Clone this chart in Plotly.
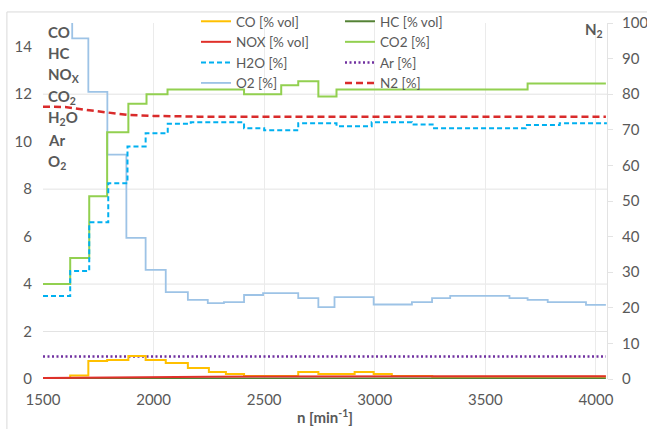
import plotly.graph_objects as go

# ---------------- data ----------------
n_co = [1500, 1623, 1705, 1790, 1886, 1964, 2055, 2155, 2250, 2327, 2409, 2654, 2745, 2909, 2995, 3077, 3260, 4045]
co = [0.0, 0.15, 0.76, 0.8, 0.97, 0.8, 0.67, 0.46, 0.3, 0.21, 0.13, 0.3, 0.21, 0.3, 0.21, 0.13, 0.1, 0.1]

n_hc = [1500, 4045]
hc = [0.02, 0.02]

n_nox = [1500, 1790, 1960, 2250, 3780, 4045]
nox = [0.04, 0.07, 0.1, 0.1, 0.12, 0.12]

n_co2 = [1500, 1623, 1709, 1790, 1886, 1968, 2063, 2409, 2577, 2654, 2745, 2827, 3691, 4045]
co2 = [4.0, 5.1, 7.7, 10.4, 11.6, 12.0, 12.2, 12.0, 12.38, 12.55, 11.9, 12.2, 12.45, 12.45]

n_h2o = [1500, 1623, 1709, 1795, 1882, 1964, 2064, 2168, 2409, 2500, 2654, 2827, 2986, 3168, 3268, 3682, 3836, 4045]
h2o = [3.5, 4.55, 6.6, 8.25, 9.8, 10.35, 10.75, 10.82, 10.57, 10.48, 10.78, 10.65, 10.82, 10.72, 10.57, 10.7, 10.78, 10.82]

n_ar = [1500, 4045]
ar = [0.95, 0.95]

n_o2 = [1500, 1632, 1705, 1791, 1877, 1964, 2055, 2155, 2245, 2318, 2409, 2495, 2654, 2745, 2818, 2995, 3168, 3259, 3341, 3609, 3691, 3782, 3955, 4045]
o2 = [16.5, 14.35, 12.1, 9.45, 5.95, 4.6, 3.66, 3.33, 3.2, 3.24, 3.54, 3.62, 3.41, 3.03, 3.45, 3.14, 3.24, 3.41, 3.5, 3.41, 3.33, 3.24, 3.12, 3.12]

n_n2 = [1500, 1600, 1720, 1790, 1880, 2000, 2200, 4045]
n2 = [76.5, 76.4, 75.4, 74.8, 74.2, 73.9, 73.7, 73.7]

x_ticks = [1500, 2000, 2500, 3000, 3500, 4000]
y_ticks = [0, 2, 4, 6, 8, 10, 12, 14]
y2_ticks = [0, 10, 20, 30, 40, 50, 60, 70, 80, 90, 100]
grid_y = [2, 4, 8, 12]

side_labels = ["CO", "HC", "NO<sub>X</sub>", "CO<sub>2</sub>", "H<sub>2</sub>O", "Ar", "O<sub>2</sub>"]

FONT = "Lato"
GRAY = "#595959"

fig = go.Figure()

def add(name, x, y, color, width=2, dash="solid", shape="hv", yaxis="y", legend="legend"):
    fig.add_trace(go.Scatter(x=x, y=y, name=name, mode="lines", yaxis=yaxis, legend=legend,
                             line=dict(color=color, width=width, dash=dash, shape=shape)))

add("O2 [%]", n_o2, o2, "#9DC3E6", 1.8, legend="legend")
add("CO2 [%]", n_co2, co2, "#92D050", 2, legend="legend2")
add("H2O [%]", n_h2o, h2o, "#00B0F0", 2, dash="5px,3px", legend="legend")
add("N2 [%]", n_n2, n2, "#D92B2B", 2.5, dash="7px,4px", shape="linear", yaxis="y2", legend="legend2")
add("Ar [%]", n_ar, ar, "#7030A0", 2.5, dash="2px,2.5px", shape="linear", legend="legend2")
add("CO [% vol]", n_co, co, "#FFC000", 2, legend="legend")
add("HC [% vol]", n_hc, hc, "#548235", 2, shape="linear", legend="legend2")
add("NOX [% vol]", n_nox, nox, "#E0302A", 2, shape="linear", legend="legend")

ranks = {"CO [% vol]": 1, "NOX [% vol]": 2, "H2O [%]": 3, "O2 [%]": 4,
         "HC [% vol]": 1, "CO2 [%]": 2, "Ar [%]": 3, "N2 [%]": 4}
for tr in fig.data:
    tr.legendrank = ranks[tr.name]

shapes = []
for g in grid_y:
    shapes.append(dict(type="line", xref="paper", yref="y", x0=0, x1=1, y0=g, y1=g,
                       line=dict(color="#E3E3E3", width=1), layer="below"))
shapes.append(dict(type="rect", xref="paper", yref="paper", x0=-0.064, x1=1.3, y0=-0.5, y1=1.031,
                   line=dict(color="#D9D9D9", width=1), layer="below"))

annotations = []
ypix = [32, 53, 75, 97, 118, 140, 162]
for lab, yp in zip(side_labels, ypix):
    annotations.append(dict(text="<b>" + lab + "</b>", xref="paper", yref="paper",
                            x=(46 - 43) / 564, y=(379 - yp) / 356, xanchor="left", yanchor="middle",
                            showarrow=False, font=dict(family=FONT, size=15, color=GRAY)))
annotations.append(dict(text="<b>N<sub>2</sub></b>", xref="paper", yref="paper",
                        x=(605 - 43) / 564, y=(379 - 30) / 356, xanchor="right", yanchor="middle",
                        showarrow=False, font=dict(family=FONT, size=15, color=GRAY)))
annotations.append(dict(text="<b>n [min<sup>-1</sup>]</b>", xref="paper", yref="paper",
                        x=0.5, y=(379 - 428) / 356, xanchor="center", yanchor="bottom",
                        showarrow=False, font=dict(family=FONT, size=15, color=GRAY)))

legend_common = dict(bgcolor="rgba(0,0,0,0)", orientation="v", font=dict(family=FONT, size=13.5, color=GRAY),
                     yanchor="top", xanchor="left", tracegroupgap=0, itemwidth=30, traceorder="normal")

fig.update_layout(
    width=647, height=429,
    margin=dict(l=43, r=40, t=23, b=50, autoexpand=False),
    paper_bgcolor="white", plot_bgcolor="white",
    font=dict(family=FONT, size=15, color=GRAY),
    showlegend=True,
    legend=dict(x=(196 - 43) / 564, y=(379 - 6) / 356, **legend_common),
    legend2=dict(x=(340 - 43) / 564, y=(379 - 6) / 356, **legend_common),
    xaxis=dict(range=[1500, 4050], tickvals=x_ticks, showgrid=True, gridcolor="#EBEBEB", gridwidth=1,
               zeroline=False, showline=False, ticks="", ticklabelstandoff=10,
               tickfont=dict(family=FONT, size=15, color=GRAY)),
    yaxis=dict(range=[0, 15], tickvals=y_ticks, showgrid=False, zeroline=False, showline=False,
               ticks="", ticklabelstandoff=10, tickfont=dict(family=FONT, size=15, color=GRAY)),
    yaxis2=dict(range=[0, 100], tickvals=y2_ticks, overlaying="y", side="right", showgrid=False,
                zeroline=False, showline=True, linecolor="#E3E3E3", linewidth=1,
                ticks="outside", ticklen=5, tickcolor="#E3E3E3", ticklabelstandoff=6,
                tickfont=dict(family=FONT, size=15, color=GRAY)),
    shapes=shapes,
    annotations=annotations,
)

fig.write_html("out.html")
